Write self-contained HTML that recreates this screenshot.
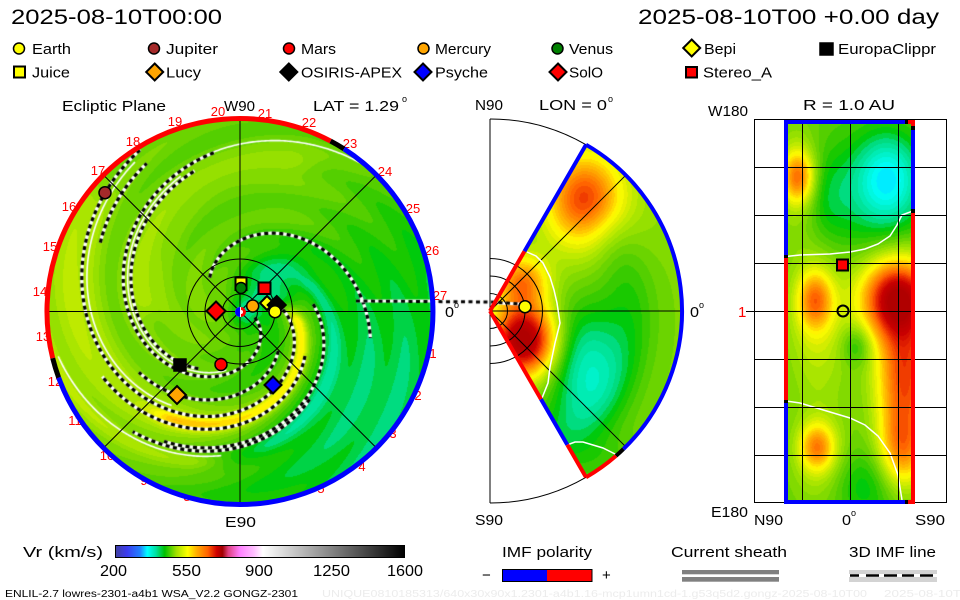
<!DOCTYPE html>
<html><head><meta charset="utf-8">
<style>
html,body{margin:0;padding:0;background:#fff;width:960px;height:600px;overflow:hidden}
#wrap{position:relative;width:960px;height:600px}
svg,canvas{position:absolute;left:0;top:0}
text{font-family:"Liberation Sans",sans-serif}
</style></head><body><div id="wrap">
<svg id="bg" width="960" height="600">
<g fill="#ff0000" font-size="13" text-anchor="middle" font-family="Liberation Sans, sans-serif">
<text x="175" y="126">19</text><text x="218" y="116">20</text><text x="265" y="118">21</text><text x="309" y="127">22</text><text x="350" y="148">23</text><text x="385" y="176">24</text><text x="413" y="213">25</text><text x="432" y="255">26</text><text x="440" y="300">27</text><text x="433" y="358">1</text><text x="418" y="400">2</text><text x="393" y="438">3</text><text x="362" y="471">4</text><text x="321" y="493">5</text><text x="277" y="503">6</text><text x="231" y="506">7</text><text x="187" y="501">8</text><text x="144" y="485">9</text><text x="107" y="460">10</text><text x="75" y="425">11</text><text x="55" y="386">12</text><text x="43" y="341">13</text><text x="40" y="296">14</text><text x="50" y="251">15</text><text x="69" y="211">16</text><text x="98" y="175">17</text><text x="133" y="146">18</text>
</g>
<circle cx="240" cy="311.5" r="191" fill="#58d000"/>
<path d="M490,311 L585.5,145.6 A191,191 0 0 1 585.5,476.4 Z" fill="#60d000"/>
<rect x="786" y="122" width="128" height="380" fill="#a0e000"/>
</svg>
<canvas id="cv" width="960" height="600"></canvas>
<svg id="fg" width="960" height="600">
<defs>
<linearGradient id="cb" x1="0" x2="1" y1="0" y2="0">
<stop offset="0" stop-color="#4040a0"/><stop offset="0.04" stop-color="#3c3cf0"/><stop offset="0.085" stop-color="#2080ff"/><stop offset="0.11" stop-color="#00ffff"/><stop offset="0.14" stop-color="#00e0a0"/><stop offset="0.17" stop-color="#00c000"/><stop offset="0.21" stop-color="#a0e000"/><stop offset="0.25" stop-color="#ffff00"/><stop offset="0.28" stop-color="#ffb000"/><stop offset="0.32" stop-color="#ff6000"/><stop offset="0.35" stop-color="#d00000"/><stop offset="0.37" stop-color="#a00000"/><stop offset="0.39" stop-color="#e04080"/><stop offset="0.43" stop-color="#ff80ff"/><stop offset="0.48" stop-color="#ffc0ff"/><stop offset="0.51" stop-color="#ffffff"/><stop offset="1" stop-color="#000000"/>
</linearGradient>
</defs>
<text x="11" y="24" font-size="21" textLength="211" lengthAdjust="spacingAndGlyphs">2025-08-10T00:00</text>
<text x="638" y="24" font-size="21" textLength="301" lengthAdjust="spacingAndGlyphs">2025-08-10T00 +0.00 day</text>
<g stroke="#000" stroke-width="1.5">
<circle cx="19" cy="48.5" r="5.5" fill="#ffff00"/>
<circle cx="154" cy="48.5" r="5.5" fill="#a52a2a"/>
<circle cx="289" cy="48.5" r="5.5" fill="#ff0000"/>
<circle cx="423.5" cy="48.5" r="5.5" fill="#ffa500"/>
<circle cx="557.5" cy="48.5" r="5.5" fill="#008000"/>
<polygon points="691.7,39.5 700.2,48 691.7,56.5 683.2,48" fill="#ffff00" stroke-width="2"/>
<rect x="820" y="43" width="13" height="12" fill="#000"/>
<rect x="14" y="66.5" width="11" height="11" fill="#ffff00" stroke-width="2"/>
<polygon points="154.7,63.5 163.2,72 154.7,80.5 146.2,72" fill="#ffa500" stroke-width="2"/>
<polygon points="288.8,63.5 297.3,72 288.8,80.5 280.3,72" fill="#000" stroke-width="2"/>
<polygon points="423,63.5 431.5,72 423,80.5 414.5,72" fill="#0000ff" stroke-width="2"/>
<polygon points="558,63.5 566.5,72 558,80.5 549.5,72" fill="#ff0000" stroke-width="2"/>
<rect x="686" y="67" width="11" height="10.5" fill="#ff0000" stroke-width="2"/>
</g>
<g font-size="15">
<text x="32" y="54" textLength="39" lengthAdjust="spacingAndGlyphs">Earth</text>
<text x="166" y="54" textLength="52" lengthAdjust="spacingAndGlyphs">Jupiter</text>
<text x="301" y="54" textLength="35" lengthAdjust="spacingAndGlyphs">Mars</text>
<text x="435" y="54" textLength="56" lengthAdjust="spacingAndGlyphs">Mercury</text>
<text x="569" y="54" textLength="44" lengthAdjust="spacingAndGlyphs">Venus</text>
<text x="704" y="54" textLength="32" lengthAdjust="spacingAndGlyphs">Bepi</text>
<text x="838" y="54" textLength="98" lengthAdjust="spacingAndGlyphs">EuropaClippr</text>
<text x="32" y="77.5" textLength="38" lengthAdjust="spacingAndGlyphs">Juice</text>
<text x="166" y="77.5" textLength="35" lengthAdjust="spacingAndGlyphs">Lucy</text>
<text x="301" y="77.5" textLength="101" lengthAdjust="spacingAndGlyphs">OSIRIS-APEX</text>
<text x="435" y="77.5" textLength="53" lengthAdjust="spacingAndGlyphs">Psyche</text>
<text x="569" y="77.5" textLength="34" lengthAdjust="spacingAndGlyphs">SolO</text>
<text x="703" y="77.5" textLength="69" lengthAdjust="spacingAndGlyphs">Stereo_A</text>
<text x="62" y="111" textLength="104" lengthAdjust="spacingAndGlyphs">Ecliptic Plane</text>
<text x="224" y="111" textLength="31" lengthAdjust="spacingAndGlyphs">W90</text>
<text x="313" y="111" textLength="86" lengthAdjust="spacingAndGlyphs">LAT = 1.29</text>
<text x="475" y="110" textLength="28" lengthAdjust="spacingAndGlyphs">N90</text>
<text x="539" y="110" textLength="68" lengthAdjust="spacingAndGlyphs">LON = 0</text>
<text x="708" y="116" textLength="40" lengthAdjust="spacingAndGlyphs">W180</text>
<text x="803" y="110" textLength="92" lengthAdjust="spacingAndGlyphs">R = 1.0 AU</text>
<text x="225" y="527" textLength="31" lengthAdjust="spacingAndGlyphs">E90</text>
<text x="475" y="525" textLength="28" lengthAdjust="spacingAndGlyphs">S90</text>
<text x="711" y="517" textLength="37" lengthAdjust="spacingAndGlyphs">E180</text>
<text x="754" y="525" textLength="29" lengthAdjust="spacingAndGlyphs">N90</text>
<text x="842" y="525" textLength="9" lengthAdjust="spacingAndGlyphs">0</text>
<text x="915" y="525" textLength="30" lengthAdjust="spacingAndGlyphs">S90</text>
<text x="445" y="317" textLength="9" lengthAdjust="spacingAndGlyphs">0</text>
<text x="690" y="317" textLength="9" lengthAdjust="spacingAndGlyphs">0</text>
<text x="738" y="317" fill="#ff0000">1</text>
</g>
<g font-size="9">
<text x="402" y="102">o</text><text x="608" y="102">o</text><text x="851" y="516">o</text><text x="454" y="308">o</text><text x="699" y="308">o</text>
</g>
<g stroke="#000" stroke-width="1" fill="none">
<circle cx="240" cy="311.5" r="17.5"/><circle cx="240" cy="311.5" r="35"/><circle cx="240" cy="311.5" r="52.5"/>
<line x1="240" y1="117" x2="240" y2="506"/>
<line x1="46" y1="311.5" x2="435" y2="311.5"/>
<line x1="103.5" y1="175" x2="376.5" y2="448"/>
<line x1="103.5" y1="448" x2="376.5" y2="175"/>
</g>
<g fill="none" stroke-width="5">
<path d="M52.7,358.2 A193,193 0 0 1 330.6,141.1" stroke="#ff0000"/>
<path d="M330.6,141.1 A193,193 0 0 1 344.0,148.9" stroke="#000"/>
<path d="M344.0,148.9 A193,193 0 1 1 58.6,377.5" stroke="#0000ff"/>
<path d="M58.6,377.5 A193,193 0 0 1 52.7,358.2" stroke="#000"/>
</g>
<g stroke="#000" stroke-width="1.5">
<circle cx="105" cy="192.7" r="6" fill="#a52a2a"/>
<rect x="174" y="359" width="12" height="12" fill="#000"/>
<polygon points="177,386 186,395 177,404 168,395" fill="#ffa500" stroke-width="2"/>
<circle cx="221" cy="364.5" r="6" fill="#ff0000"/>
<polygon points="273,376.5 281.5,385 273,393.5 264.5,385" fill="#0000ff" stroke-width="2"/>
<polygon points="216,301.5 225.5,311 216,320.5 206.5,311" fill="#ff0000" stroke-width="2"/>
<rect x="235.5" y="277.5" width="11" height="12.5" fill="#ffff00" stroke-width="2"/>
<circle cx="241" cy="288" r="5.5" fill="#008000"/>
<rect x="258.5" y="282.5" width="12" height="11.5" fill="#ff0000" stroke-width="2"/>
<polygon points="267,296 274,303 267,310 260,303" fill="#ffff00" stroke-width="2"/>
<polygon points="276.7,296 285.7,305 276.7,314 267.7,305" fill="#000" stroke-width="2"/>
<circle cx="252.7" cy="306" r="6" fill="#ffa500"/>
<circle cx="275" cy="311.7" r="6" fill="#ffff00"/>
</g>
<circle cx="240" cy="312" r="5" fill="#fff"/>
<path d="M240,307 A5,5 0 0 0 240,317 Z" fill="#0000ff"/>
<path d="M241,307 A5,5 0 0 1 241,317 L241,314 A2,2 0 0 0 241,310 Z" fill="#ff0000"/>
<g stroke="#000" stroke-width="1" fill="none">
<path d="M490,119 V503"/>
<path d="M490,119 A192,192 0 0 1 586,144.7"/>
<path d="M586,477.3 A192,192 0 0 1 490,503"/>
<line x1="490" y1="311" x2="682" y2="311"/>
<line x1="490" y1="311" x2="625.8" y2="175.2"/>
<line x1="490" y1="311" x2="625.8" y2="446.8"/>
<path d="M490,293.5 A17.5,17.5 0 0 1 490,328.5"/>
<path d="M490,276 A35,35 0 0 1 490,346"/>
<path d="M490,258.5 A52.5,52.5 0 0 1 490,363.5"/>
</g>
<g fill="none" stroke="#fff" stroke-width="1.5">
<polyline points="527,252 536,256 543,263 550,277 554,290 557,303 560,323 555,343 550,367 548,383 542,398"/>
<polyline points="567,445 575,442 583,442 603,448 617,455"/>
</g>
<g fill="none" stroke-width="4">
<path d="M586,144.7 A192,192 0 0 1 623.4,449.1" stroke="#0000ff"/>
<path d="M623.4,449.1 A192,192 0 0 1 616,455.9" stroke="#000"/>
<path d="M616,455.9 A192,192 0 0 1 586,477.3" stroke="#ff0000"/>
<path d="M490,311 L524.5,251.2" stroke="#ff0000"/>
<path d="M524.5,251.2 L586,144.7" stroke="#0000ff"/>
<path d="M490,311 L541,399.3" stroke="#ff0000"/>
<path d="M541,399.3 L567.3,444.8" stroke="#0000ff"/>
<path d="M567.3,444.8 L586,477.3" stroke="#ff0000"/>
</g>
<circle cx="525" cy="306.7" r="6" fill="#ffff00" stroke="#000" stroke-width="1.5"/>
<g fill="none" stroke="#fff" stroke-width="1.5">
<polyline points="786,256.5 800,255 830,254 850,252 865,249 878,244 890,236 897,225 902,215 913,211"/>
<polyline points="786,401 800,403 830,412 850,418 865,425 878,436 890,453 898,475 902,500"/>
</g>
<g stroke="#000" stroke-width="1" fill="none">
<rect x="754.5" y="119.5" width="192" height="383"/>
<path d="M754,167.5 H947 M754,215.5 H947 M754,263.5 H947 M754,311.5 H947 M754,359.5 H947 M754,407.5 H947 M754,455.5 H947"/>
<path d="M802.5,119 V503 M850.5,119 V503 M898.5,119 V503"/>
<line x1="746" y1="311.5" x2="754" y2="311.5"/>
</g>
<g fill="none" stroke-width="4">
<path d="M786,122 V255" stroke="#0000ff"/><path d="M786,255 V258" stroke="#000"/><path d="M786,258 V400" stroke="#ff0000"/><path d="M786,400 V403" stroke="#000"/><path d="M786,403 V502" stroke="#0000ff"/>
<path d="M913,122 V126" stroke="#ff0000"/><path d="M913,126 V130" stroke="#000"/><path d="M913,130 V209" stroke="#0000ff"/><path d="M913,209 V213" stroke="#000"/><path d="M913,213 V504" stroke="#ff0000"/>
<path d="M784,122 H905" stroke="#0000ff"/><path d="M905,122 H908" stroke="#000"/><path d="M908,122 H915" stroke="#ff0000"/>
<path d="M784,502 H905" stroke="#0000ff"/><path d="M905,502 H908" stroke="#000"/><path d="M908,502 H915" stroke="#ff0000"/>
</g>
<rect x="837" y="259.5" width="11" height="11" fill="#ff0000" stroke="#000" stroke-width="2"/>
<circle cx="843" cy="311" r="5.5" fill="none" stroke="#000" stroke-width="2"/>
<g font-size="15">
<text x="23" y="557" textLength="80" lengthAdjust="spacingAndGlyphs">Vr (km/s)</text>
<text x="502" y="557" textLength="90" lengthAdjust="spacingAndGlyphs">IMF polarity</text>
<text x="671" y="557" textLength="116" lengthAdjust="spacingAndGlyphs">Current sheath</text>
<text x="849" y="557" textLength="87" lengthAdjust="spacingAndGlyphs">3D IMF line</text>
<text x="482" y="580">−</text>
<text x="602" y="580">+</text>
</g>
<g font-size="16">
<text x="100" y="576" textLength="27" lengthAdjust="spacingAndGlyphs">200</text>
<text x="172" y="576" textLength="29" lengthAdjust="spacingAndGlyphs">550</text>
<text x="245" y="576" textLength="28" lengthAdjust="spacingAndGlyphs">900</text>
<text x="313" y="576" textLength="37" lengthAdjust="spacingAndGlyphs">1250</text>
<text x="387" y="576" textLength="36" lengthAdjust="spacingAndGlyphs">1600</text>
</g>
<rect x="115.5" y="545.5" width="289" height="12" fill="url(#cb)" stroke="#000" stroke-width="1"/>
<rect x="502" y="569" width="45" height="12.5" fill="#0000ff"/>
<rect x="547" y="569" width="45" height="12.5" fill="#ff0000"/>
<rect x="502.5" y="569.5" width="89.5" height="12" fill="none" stroke="#000" stroke-width="1"/>
<rect x="682" y="570" width="97" height="4.3" fill="#808080"/>
<rect x="682" y="577" width="97" height="4.7" fill="#808080"/>
<rect x="849" y="570" width="88" height="12" fill="#d3d3d3"/>
<rect x="849" y="574" width="88" height="3" fill="#ffffff"/>
<line x1="850" y1="575.5" x2="937" y2="575.5" stroke="#000" stroke-width="2.5" stroke-dasharray="9 7 13 5 13 5 12 6 13"/>
<text x="5" y="597" font-size="10" textLength="293" lengthAdjust="spacingAndGlyphs">ENLIL-2.7 lowres-2301-a4b1 WSA_V2.2 GONGZ-2301</text>
<text x="322" y="597" font-size="10" fill="#ececec" textLength="545" lengthAdjust="spacingAndGlyphs">UNIQUE0810185313/640x30x90x1.2301-a4b1.16-mcp1umn1cd-1.g53q5d2.gongz-2025-08-10T00</text>
<text x="884" y="597" font-size="10" fill="#ececec" textLength="92" lengthAdjust="spacingAndGlyphs">2025-08-10T00</text>
</svg>
</div>
<script>
(function(){
var cv=document.getElementById('cv');var ctx=cv.getContext('2d');
var W=960,H=600;var img=ctx.createImageData(W,H);var D=img.data;
var S=[[330,[0,160,255]],[355,[0,255,255]],[385,[0,240,192]],[410,[0,220,128]],[432,[0,200,0]],[455,[72,204,0]],[480,[130,218,0]],[505,[180,232,0]],[530,[232,240,0]],[545,[255,255,0]],[570,[255,200,0]],[600,[255,150,0]],[630,[255,100,0]],[660,[232,40,0]],[690,[200,0,0]],[730,[176,0,0]]];
function cmap(v){v=Math.round(v/10)*10;if(v<=S[0][0])return S[0][1];for(var i=1;i<S.length;i++){if(v<=S[i][0]){var a=S[i-1],b=S[i];var f=(v-a[0])/(b[0]-a[0]);return [a[1][0]+f*(b[1][0]-a[1][0]),a[1][1]+f*(b[1][1]-a[1][1]),a[1][2]+f*(b[1][2]-a[1][2])];}}return S[S.length-1][1];}
function put(x,y,v){var c=cmap(v);var i=(y*W+x)*4;D[i]=c[0];D[i+1]=c[1];D[i+2]=c[2];D[i+3]=255;}
function g2(x,y,cx,cy,sx,sy){var a=(x-cx)/sx,b=(y-cy)/sy;return Math.exp(-(a*a+b*b)/2);}
var CX=240,CY=311.5,B=35,TP=2*Math.PI;
function ridge(r,th,psi,ta,tb,w){var best=0;for(var k=-1;k<=2;k++){var t=th+TP*k;if(t<ta-0.5||t>tb+0.5)continue;var rf=B*(t-psi);if(rf<0)continue;var q=(r-rf)/w;var e=Math.exp(-q*q);if(t<ta){var z=(ta-t)/0.2;e*=Math.exp(-z*z);}if(t>tb){var z2=(t-tb)/0.2;e*=Math.exp(-z2*z2);}if(e>best)best=e;}return best;}
function vMain(x,y){
 var dx=x-CX,dy=y-CY,r=Math.sqrt(dx*dx+dy*dy),th=Math.atan2(dy,dx);
 var psi=th-r/B;
 var v=458+20*Math.cos(th-3.2);
 v+=7*Math.sin(6*psi+1.0)*Math.min(1,r/80);
 v-=35*g2(x,y,265,285,18,16);
 v-=22*g2(x,y,290,262,24,16);
 v-=40*g2(x,y,240,311.5,11,11);
 var outer=1-Math.exp(-Math.pow(r/95,4));
 var ta=th-0.8; v-=26*Math.exp(-ta*ta/0.9)*outer;
 var tb=th+1.05; v+=18*Math.exp(-tb*tb/0.3)*outer;
 v-=18*ridge(r,th,-2.5,-0.3,1.3,7);
 v+=85*ridge(r,th,-1.5,0.2,2.1,8);
 v+=35*ridge(r,th,-1.5,0.0,3.7,18);
 v+=30*ridge(r,th,0.55,3.3,5.0,12);
 v+=40*ridge(r,th,-2.6,1.9,3.2,9);
 return v;
}
function vMer(x,y){
 var mx=x-490,my=311-y,r=Math.sqrt(mx*mx+my*my),lat=Math.atan2(my,mx);
 var v=478;
 var q=(r-140)/28; v-=32*Math.exp(-q*q)*(lat<0.6?1:Math.exp(-Math.pow((lat-0.6)/0.25,2)));
 v+=140*g2(x,y,585,200,24,30);
 v+=40*g2(x,y,585,205,40,45);
 v+=270*g2(x,y,524,340,22,25);
 v+=130*g2(x,y,522,282,18,18);
 v-=58*g2(x,y,583,365,25,40);
 v-=25*g2(x,y,585,360,35,60);
 v-=20*g2(x,y,590,460,40,20);
 return v;
}
function vRt(x,y){
 var v=465;
 v-=90*g2(x,y,888,178,22,30);
 v-=35*g2(x,y,870,200,40,45);
 v+=130*g2(x,y,798,177,11,18);
 v+=40*g2(x,y,798,180,16,40);
 v+=250*g2(x,y,897,298,25,28);
 v+=180*g2(x,y,905,375,20,45);
 v+=120*g2(x,y,902,450,16,28);
 v+=120*g2(x,y,815,300,12,20);
 v+=55*g2(x,y,818,320,22,55);
 v-=45*g2(x,y,857,345,11,14);
 v+=115*g2(x,y,817,447,12,16);
 v+=40*g2(x,y,820,460,20,35);
 v-=40*g2(x,y,865,485,25,25);
 v-=30*g2(x,y,825,200,18,35);
 return v;
}
var x,y,px,py;
for(y=116;y<508;y++){for(x=45;x<437;x++){px=x+0.5;py=y+0.5;var ddx=px-CX,ddy=py-CY;if(ddx*ddx+ddy*ddy<=191*191)put(x,y,vMain(px,py));}}
for(y=117;y<506;y++){for(x=490;x<684;x++){px=x+0.5;py=y+0.5;var mx=px-490,my=311-py;var mr=Math.sqrt(mx*mx+my*my);if(mr>191||mr<2)continue;var lat=Math.atan2(my,mx)*180/Math.PI;if(Math.abs(lat)<=60)put(x,y,vMer(px,py));}}
for(y=122;y<502;y++){for(x=786;x<914;x++){put(x,y,vRt(x+0.5,y+0.5));}}
ctx.putImageData(img,0,0);
function spiral(psi,ta,tb){ctx.beginPath();var first=true;for(var t=ta;t<=tb+1e-9;t+=0.01){var r=B*(t-psi);if(r<0)continue;var xx=CX+r*Math.cos(t),yy=CY+r*Math.sin(t);if(first){ctx.moveTo(xx,yy);first=false;}else ctx.lineTo(xx,yy);}}
function dashed(psi,ta,tb){spiral(psi,ta,tb);ctx.setLineDash([]);ctx.strokeStyle='#fff';ctx.lineWidth=3.2;ctx.stroke();ctx.setLineDash([4,3.5]);ctx.strokeStyle='#000';ctx.stroke();ctx.setLineDash([]);}
function white(psi,ta,tb){spiral(psi,ta,tb);ctx.setLineDash([]);ctx.strokeStyle='#fff';ctx.lineWidth=1.6;ctx.stroke();}
ctx.save();ctx.beginPath();ctx.arc(CX,CY,191,0,TP);ctx.clip();
white(-0.07,4.5,5.4);white(-2.45,1.7,2.9);white(-1.12,2.2,4.1);white(0.08,1.8,4.3);
dashed(-1.27,-0.5,4.16);dashed(-0.05,0.4,4.55);dashed(0.18,2.2,4.4);dashed(-3.6,-2.3,0.2);
dashed(-2.2,-0.1,2.1);dashed(-1.65,0.6,2.7);dashed(-0.77,0.8,2.6);dashed(-2.3,0.9,2.3);dashed(-0.85,3.6,4.15);
ctx.beginPath();ctx.moveTo(356,301);ctx.lineTo(437,301);ctx.strokeStyle='#fff';ctx.lineWidth=3.2;ctx.stroke();
ctx.restore();
ctx.beginPath();ctx.moveTo(497,303);ctx.lineTo(520,304);ctx.strokeStyle='#fff';ctx.lineWidth=3.2;ctx.stroke();
ctx.beginPath();ctx.moveTo(356,301);ctx.lineTo(490,302);ctx.lineTo(520,304);ctx.setLineDash([4,3.5]);ctx.strokeStyle='#000';ctx.lineWidth=3;ctx.stroke();ctx.setLineDash([]);
})();
</script>
</body></html>
